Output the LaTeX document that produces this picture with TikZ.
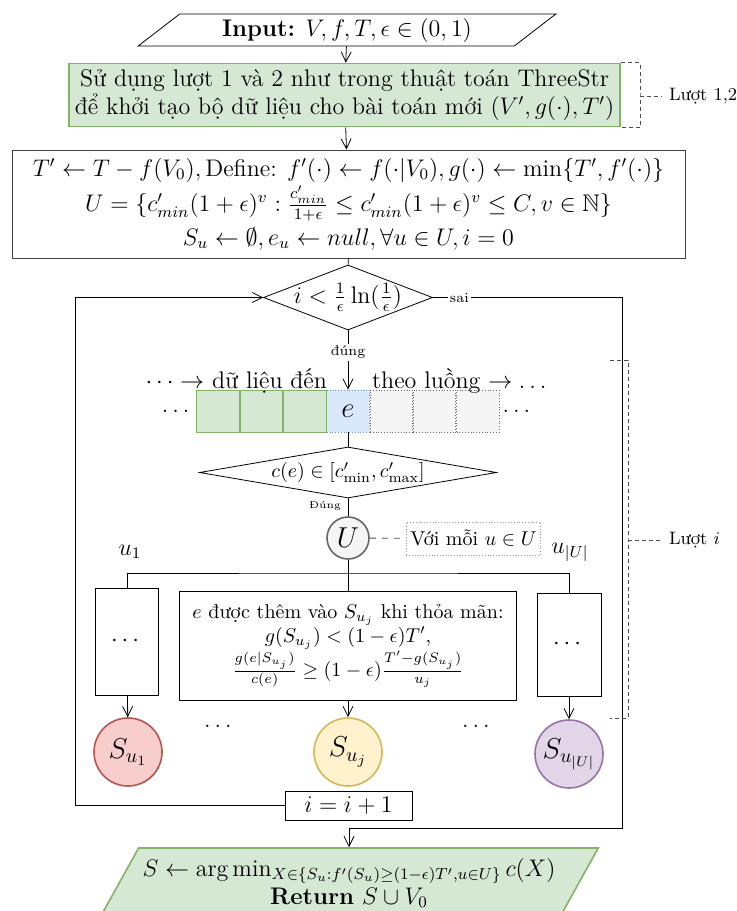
\documentclass[tikz,border=0pt]{standalone}
\usepackage{amsmath,amssymb}
\usepackage{fontspec}
\usetikzlibrary{arrows.meta,positioning,calc,shapes.geometric}

\definecolor{gfill}{HTML}{D5E8D4}
\definecolor{gline}{HTML}{82B366}
\definecolor{bfill}{HTML}{DAE8FC}
\definecolor{bline}{HTML}{6C8EBF}
\definecolor{wfill}{HTML}{F5F5F5}
\definecolor{wline}{HTML}{666666}
\definecolor{rfill}{HTML}{F8CECC}
\definecolor{rline}{HTML}{B85450}
\definecolor{yfill}{HTML}{FFF2CC}
\definecolor{yline}{HTML}{D6B656}
\definecolor{pfill}{HTML}{E1D5E7}
\definecolor{pline}{HTML}{9673A6}

\begin{document}
\begin{tikzpicture}[
  x=0.5pt,y=-0.5pt,
  font=\large,
  io/.style={trapezium,trapezium stretches=true,draw,inner sep=2pt,align=center},
  proc/.style={draw,rectangle,align=center,inner sep=3pt},
  dec/.style={diamond,draw,inner sep=0pt},
  cell/.style={rectangle,minimum width=21.25pt,minimum height=21pt,inner sep=0pt},
  gcell/.style={cell,draw=gline,fill=gfill},
  ecell/.style={cell,draw=bline,fill=bfill,densely dotted,font=\Large},
  wcell/.style={cell,draw=wline,fill=wfill,densely dotted},
  setc/.style={circle,minimum size=34pt,inner sep=0pt,line width=0.8pt,font=\Large},
  arr/.style={-{Straight Barb[length=5pt,width=5pt]}},
  brk/.style={dash pattern=on 2pt off 1.5pt,black!70},
  lbl/.style={font=\small},
]
  \useasboundingbox (0,0) rectangle (737,911);

  % input and initialisation
  \node[io,trapezium left angle=45,trapezium right angle=135,
        minimum width=209pt,minimum height=16pt] (inp) at (347,30)
        {\textbf{Input:} $V, f, T, \epsilon \in (0,1)$};
  \node[proc,draw=gline,fill=gfill,line width=0.8pt,minimum width=272.5pt,
        minimum height=31pt] (setup) at (344.5,95)
        {Sử dụng lượt 1 và 2 như trong thuật toán ThreeStr\\
         để khởi tạo bộ dữ liệu cho bài toán mới $(V', g(\cdot), T')$};
  \node[proc,draw=black!75,minimum width=336.5pt,minimum height=54pt,inner sep=2pt] (main) at (348.5,204)
        {$T' \leftarrow T - f(V_0), \text{Define: } f'(\cdot) \leftarrow f(\cdot|V_0), g(\cdot) \leftarrow \min\{T', f'(\cdot)\}$\\[1pt]
         $U = \{c'_{min}(1+\epsilon)^v : \frac{c'_{min}}{1+\epsilon} \le c'_{min}(1+\epsilon)^v \le C, v \in \mathbb{N}\}$\\[3pt]
         $S_u \leftarrow \emptyset, e_u \leftarrow null, \forall u \in U, i = 0$};

  % loop test
  \node[dec,minimum width=84.5pt,minimum height=32.5pt] (d1) at (348,297.5) {};
  \node (d1t) at (d1) {$i < \frac{1}{\epsilon}\ln(\frac{1}{\epsilon})$};

  % stream of arriving elements
  \node[ecell] (e) at (348,411) {$e$};
  \node[gcell,left=0pt of e] (g3) {};
  \node[gcell,left=0pt of g3] (g2) {};
  \node[gcell,left=0pt of g2] (g1) {};
  \node[wcell,right=0pt of e] (w1) {};
  \node[wcell,right=0pt of w1] (w2) {};
  \node[wcell,right=0pt of w2] (w3) {};
  \node[left=-2pt of g1] (ldots) {$\dots$};
  \node[right=-2pt of w3] (rdots) {$\dots$};
  \node[anchor=base east] (txtl) at (334,388) {$\dots\rightarrow$ dữ liệu đến};
  \node[anchor=base west] (txtr) at (365,388) {theo luồng $\rightarrow\dots$};

  % cost test and thresholds
  \node[dec,minimum width=148.5pt,minimum height=25.5pt] (d2) at (348,472.5) {};
  \node[font=\normalsize] (d2t) at (d2) {$c(e) \in [c'_{\min}, c'_{\max}]$};
  \node[circle,draw=wline,fill=wfill,line width=0.8pt,minimum size=21pt,
        inner sep=0pt,font=\Large] (U) at (348,538) {$U$};
  \node[draw=wline!70,densely dotted,font=\normalsize,minimum width=63.5pt,
        minimum height=16.5pt,inner sep=2pt] (note) at (473.5,538.5) {Với mỗi $u \in U$};
  \node (u1) at (130,552) {$u_1$};
  \node (uU) at (570,552) {$u_{|U|}$};

  % one candidate set per threshold
  \node[proc,minimum width=31.5pt,minimum height=53.5pt] (lb) at (127,641.5) {$\cdots$};
  \node[proc,minimum width=168.5pt,minimum height=54.5pt,font=\normalsize] (mb) at (348,645.5)
        {$e$ được thêm vào $S_{u_j}$ khi thỏa mãn:\\
         $g(S_{u_j}) < (1-\epsilon)T'$,\\
         $\frac{g(e|S_{u_j})}{c(e)} \ge (1-\epsilon)\frac{T'-g(S_{u_j})}{u_j}$};
  \node[proc,minimum width=32pt,minimum height=51.5pt] (rb) at (569,644.5) {$\cdots$};
  \node[setc,draw=rline,fill=rfill] (s1) at (128,752) {$S_{u_1}$};
  \node[setc,draw=yline,fill=yfill] (sj) at (348,752) {$S_{u_j}$};
  \node[setc,draw=pline,fill=pfill] (sU) at (569,754) {$S_{u_{|U|}}$};
  \node (dots1) at (220,726) {$\dots$};
  \node (dots2) at (478,726) {$\dots$};
  \node[proc,minimum width=63.5pt,minimum height=14.5pt,inner sep=1pt] (inc) at (348.5,805.5) {$i = i + 1$};

  % output
  \node[io,draw=gline,fill=gfill,line width=0.8pt,trapezium left angle=56,
        trapezium right angle=124,minimum width=231pt,minimum height=35pt] (out) at (349,883)
        {$S \leftarrow \arg\min_{X\in\{S_u : f'(S_u)\ge(1-\epsilon)T', u\in U\}} c(X)$\\
         \textbf{Return} $S \cup V_0$};

  % bracket labels
  \node[lbl,anchor=west] (l12) at (662,96) {Lượt 1,2};
  \node[lbl,anchor=west] (li) at (662,540) {Lượt $i$};
  \coordinate (b12) at (640,96);
  \coordinate (biT) at (610,360);
  \coordinate (bi) at (628,540);
  \coordinate (biB) at (610,718);

  % connectors
  \draw[arr] (inp) -- (setup);
  \draw[arr] (setup) -- (main);
  \draw (main) -- (d1);
  \draw[arr] (d1) -- node[pos=0.37,fill=white,font=\scriptsize,inner sep=1pt]{đúng} (e);
  \draw (e) -- (d2);
  \draw (d2) -- node[left,pos=0.45,font=\tiny]{Đúng} (U);
  \draw[dashed,black!70] (U) -- (note);
  \coordinate (bus) at (348,573);
  \draw (U) -- (mb);
  \draw (lb.north) |- (bus) -| (rb.north);
  \draw[arr] (lb) -- (s1);
  \draw[arr] (mb) -- (sj);
  \draw[arr] (rb) -- (sU);
  \coordinate (loopL) at (75,297.5);
  \draw[arr] (inc.west) -| (loopL) -- (d1.west);
  \coordinate (exitR) at (622,828);
  \draw[arr] (d1.east) -| node[pos=0.07,fill=white,font=\scriptsize,inner sep=1pt]{sai} (exitR) -| (out.north);
  \draw[brk] (setup.north east) -| (b12) |- (setup.south east);
  \draw[brk] (b12) -- (l12.west);
  \draw[brk] (biT) -| (bi) |- (biB);
  \draw[brk] (bi) -- (li.west);
\end{tikzpicture}
\end{document}
